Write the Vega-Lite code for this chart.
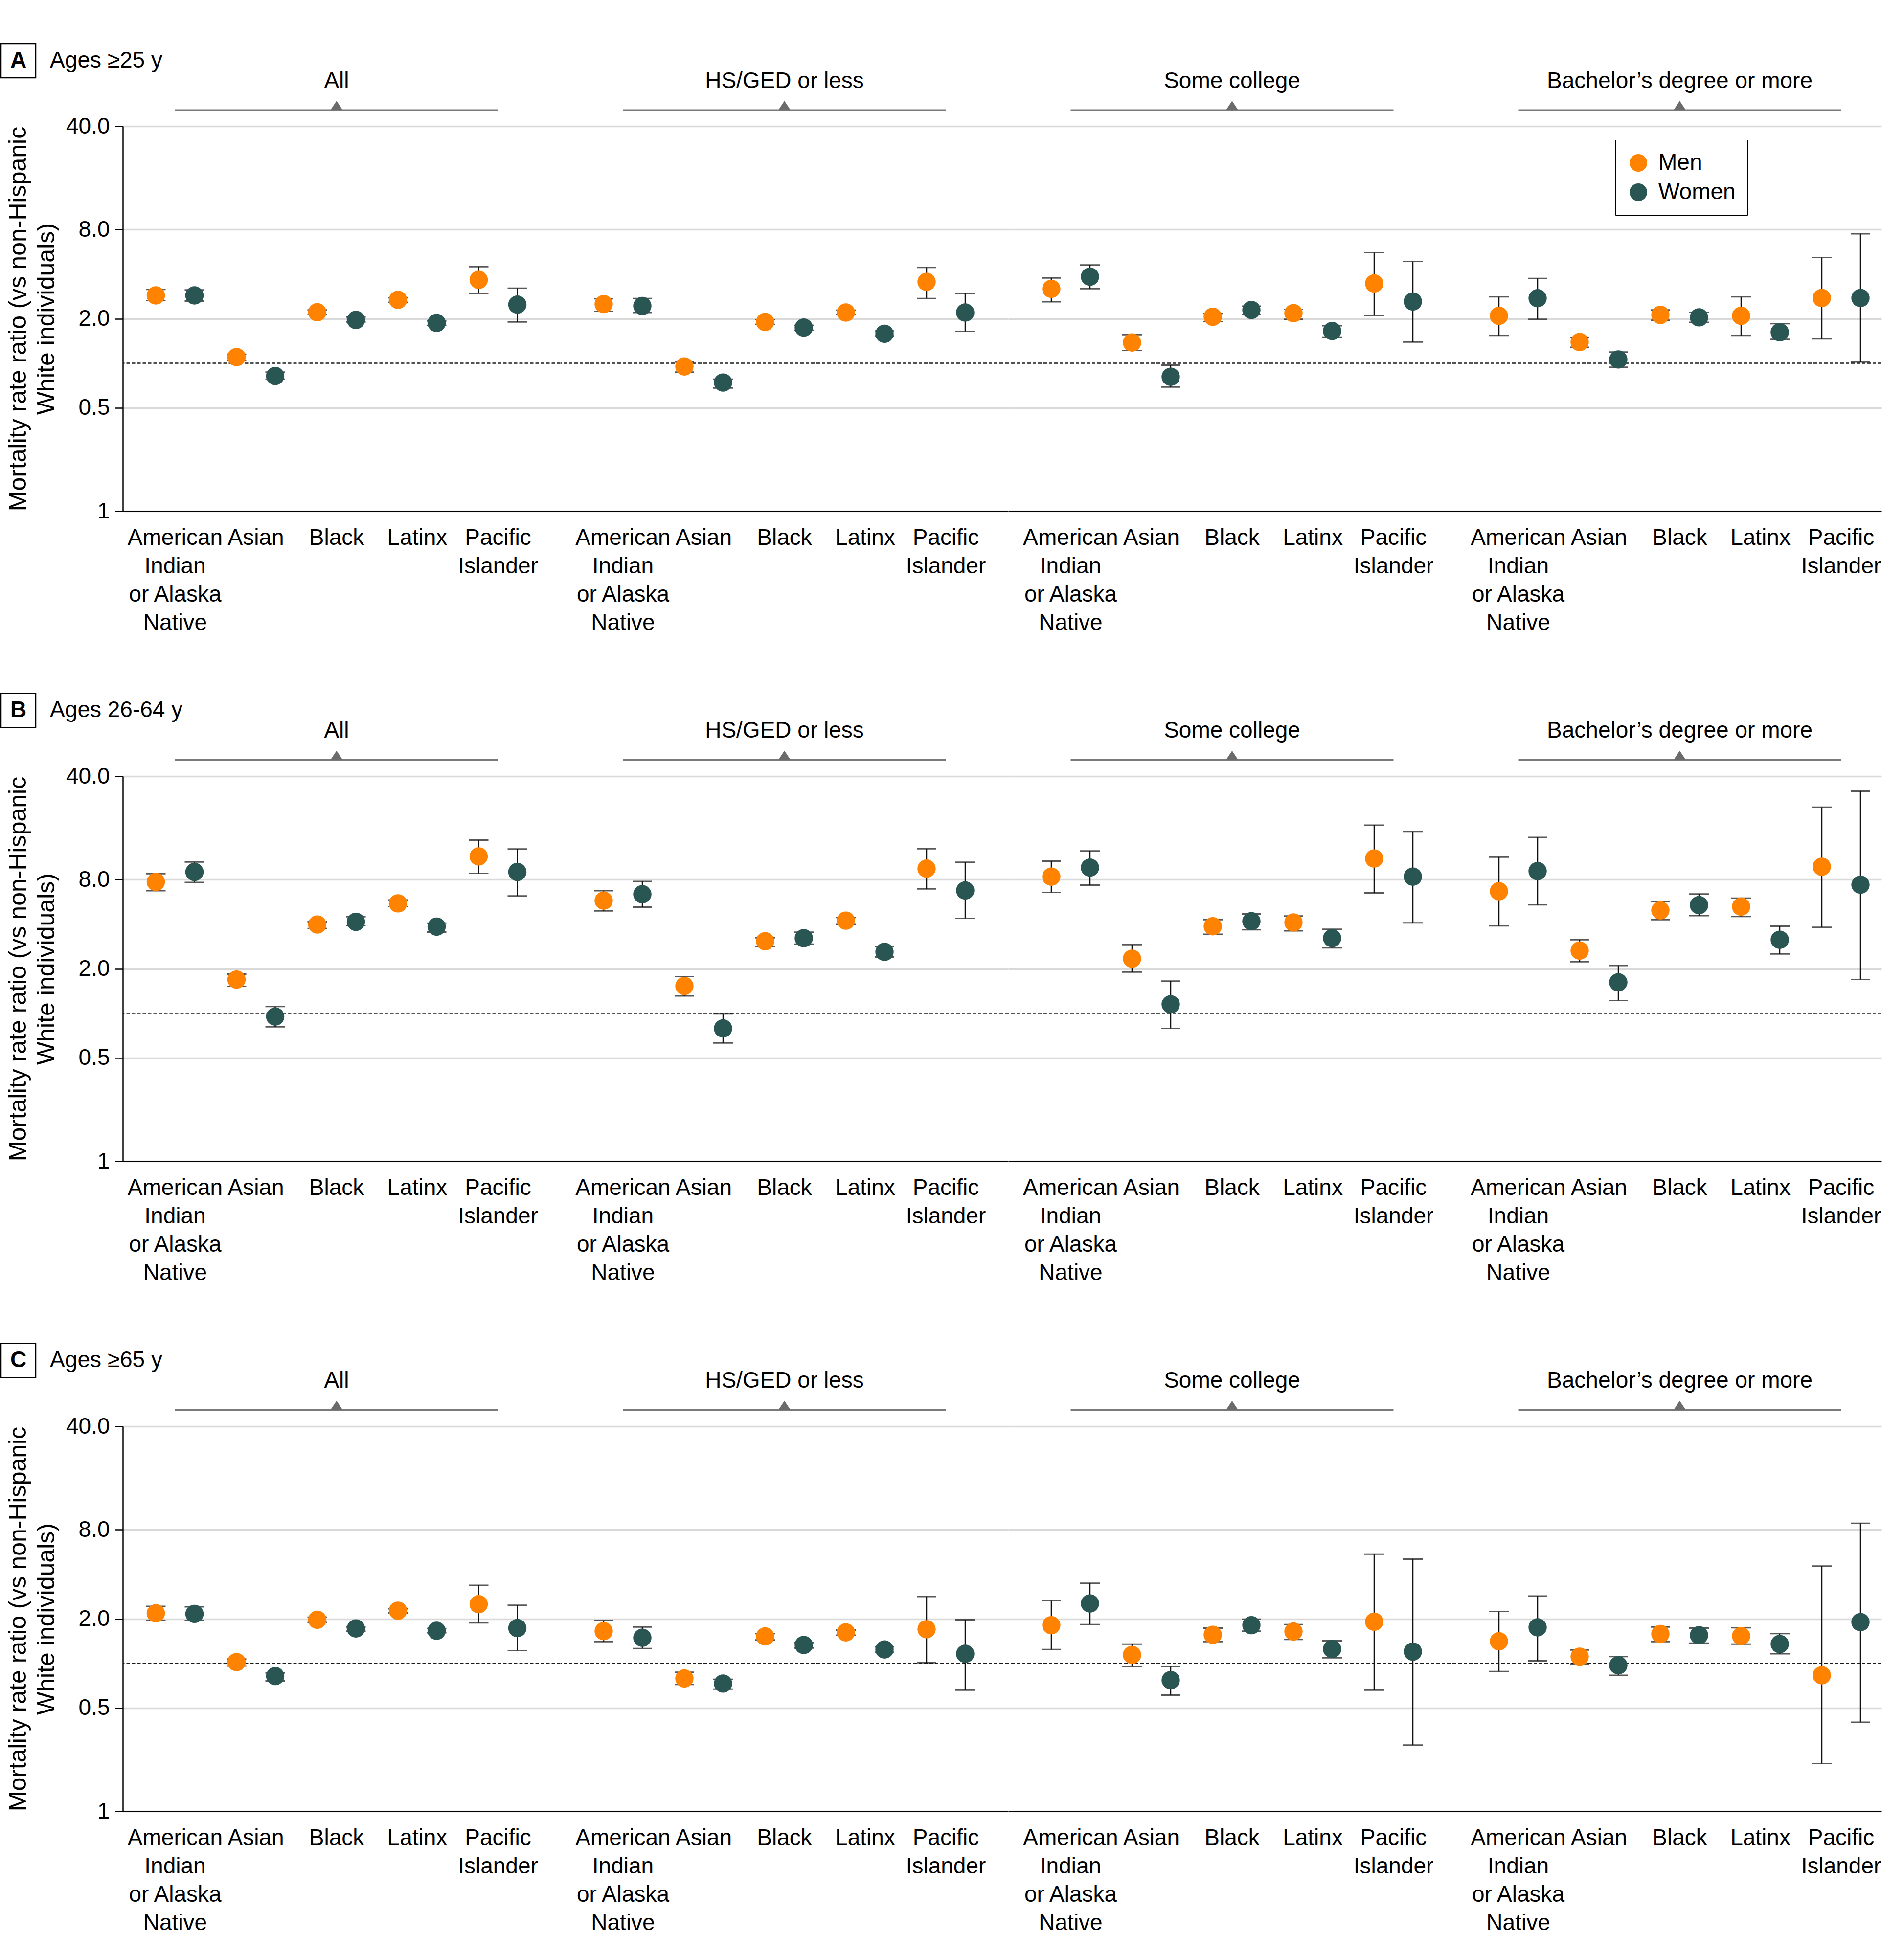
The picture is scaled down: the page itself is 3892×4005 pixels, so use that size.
{
"$schema": "https://vega.github.io/schema/vega-lite/v6.json",
"padding": 0,
"background": "white",
"bounds": "flush",
"columns": 5,
"spacing": 0,
"datasets": {"rr": [
{"panel":"A","edu":"All","race":"AIAN","sex":"Men","rr":2.87,"lo":2.65,"hi":3.15},
{"panel":"A","edu":"All","race":"AIAN","sex":"Women","rr":2.87,"lo":2.63,"hi":3.13},
{"panel":"A","edu":"All","race":"Asian","sex":"Men","rr":1.10,"lo":1.04,"hi":1.15},
{"panel":"A","edu":"All","race":"Asian","sex":"Women","rr":0.82,"lo":0.78,"hi":0.87},
{"panel":"A","edu":"All","race":"Black","sex":"Men","rr":2.21,"lo":2.14,"hi":2.29},
{"panel":"A","edu":"All","race":"Black","sex":"Women","rr":1.96,"lo":1.90,"hi":2.05},
{"panel":"A","edu":"All","race":"Latinx","sex":"Men","rr":2.68,"lo":2.58,"hi":2.77},
{"panel":"A","edu":"All","race":"Latinx","sex":"Women","rr":1.87,"lo":1.80,"hi":1.93},
{"panel":"A","edu":"All","race":"PI","sex":"Men","rr":3.66,"lo":2.97,"hi":4.49},
{"panel":"A","edu":"All","race":"PI","sex":"Women","rr":2.49,"lo":1.90,"hi":3.21},
{"panel":"A","edu":"HS","race":"AIAN","sex":"Men","rr":2.51,"lo":2.24,"hi":2.73},
{"panel":"A","edu":"HS","race":"AIAN","sex":"Women","rr":2.44,"lo":2.20,"hi":2.74},
{"panel":"A","edu":"HS","race":"Asian","sex":"Men","rr":0.95,"lo":0.87,"hi":1.02},
{"panel":"A","edu":"HS","race":"Asian","sex":"Women","rr":0.74,"lo":0.68,"hi":0.78},
{"panel":"A","edu":"HS","race":"Black","sex":"Men","rr":1.90,"lo":1.83,"hi":1.97},
{"panel":"A","edu":"HS","race":"Black","sex":"Women","rr":1.74,"lo":1.67,"hi":1.80},
{"panel":"A","edu":"HS","race":"Latinx","sex":"Men","rr":2.20,"lo":2.13,"hi":2.28},
{"panel":"A","edu":"HS","race":"Latinx","sex":"Women","rr":1.58,"lo":1.53,"hi":1.65},
{"panel":"A","edu":"HS","race":"PI","sex":"Men","rr":3.55,"lo":2.74,"hi":4.44},
{"panel":"A","edu":"HS","race":"PI","sex":"Women","rr":2.20,"lo":1.64,"hi":2.97},
{"panel":"A","edu":"SC","race":"AIAN","sex":"Men","rr":3.18,"lo":2.60,"hi":3.77},
{"panel":"A","edu":"SC","race":"AIAN","sex":"Women","rr":3.84,"lo":3.19,"hi":4.61},
{"panel":"A","edu":"SC","race":"Asian","sex":"Men","rr":1.38,"lo":1.22,"hi":1.56},
{"panel":"A","edu":"SC","race":"Asian","sex":"Women","rr":0.81,"lo":0.69,"hi":0.97},
{"panel":"A","edu":"SC","race":"Black","sex":"Men","rr":2.06,"lo":1.91,"hi":2.17},
{"panel":"A","edu":"SC","race":"Black","sex":"Women","rr":2.29,"lo":2.14,"hi":2.43},
{"panel":"A","edu":"SC","race":"Latinx","sex":"Men","rr":2.18,"lo":1.98,"hi":2.31},
{"panel":"A","edu":"SC","race":"Latinx","sex":"Women","rr":1.65,"lo":1.50,"hi":1.79},
{"panel":"A","edu":"SC","race":"PI","sex":"Men","rr":3.46,"lo":2.10,"hi":5.59},
{"panel":"A","edu":"SC","race":"PI","sex":"Women","rr":2.61,"lo":1.39,"hi":4.87},
{"panel":"A","edu":"BA","race":"AIAN","sex":"Men","rr":2.09,"lo":1.54,"hi":2.81},
{"panel":"A","edu":"BA","race":"AIAN","sex":"Women","rr":2.75,"lo":1.98,"hi":3.74},
{"panel":"A","edu":"BA","race":"Asian","sex":"Men","rr":1.39,"lo":1.28,"hi":1.49},
{"panel":"A","edu":"BA","race":"Asian","sex":"Women","rr":1.06,"lo":0.94,"hi":1.19},
{"panel":"A","edu":"BA","race":"Black","sex":"Men","rr":2.12,"lo":1.95,"hi":2.29},
{"panel":"A","edu":"BA","race":"Black","sex":"Women","rr":2.04,"lo":1.89,"hi":2.21},
{"panel":"A","edu":"BA","race":"Latinx","sex":"Men","rr":2.09,"lo":1.54,"hi":2.81},
{"panel":"A","edu":"BA","race":"Latinx","sex":"Women","rr":1.62,"lo":1.45,"hi":1.85},
{"panel":"A","edu":"BA","race":"PI","sex":"Men","rr":2.76,"lo":1.46,"hi":5.18},
{"panel":"A","edu":"BA","race":"PI","sex":"Women","rr":2.76,"lo":1.02,"hi":7.49},
{"panel":"B","edu":"All","race":"AIAN","sex":"Men","rr":7.72,"lo":6.74,"hi":8.78},
{"panel":"B","edu":"All","race":"AIAN","sex":"Women","rr":9.02,"lo":7.66,"hi":10.53},
{"panel":"B","edu":"All","race":"Asian","sex":"Men","rr":1.69,"lo":1.52,"hi":1.84},
{"panel":"B","edu":"All","race":"Asian","sex":"Women","rr":0.95,"lo":0.81,"hi":1.11},
{"panel":"B","edu":"All","race":"Black","sex":"Men","rr":3.98,"lo":3.74,"hi":4.15},
{"panel":"B","edu":"All","race":"Black","sex":"Women","rr":4.15,"lo":3.91,"hi":4.49},
{"panel":"B","edu":"All","race":"Latinx","sex":"Men","rr":5.53,"lo":5.26,"hi":5.83},
{"panel":"B","edu":"All","race":"Latinx","sex":"Women","rr":3.85,"lo":3.54,"hi":4.07},
{"panel":"B","edu":"All","race":"PI","sex":"Men","rr":11.49,"lo":8.82,"hi":14.8},
{"panel":"B","edu":"All","race":"PI","sex":"Women","rr":9.02,"lo":6.21,"hi":12.9},
{"panel":"B","edu":"HS","race":"AIAN","sex":"Men","rr":5.77,"lo":4.92,"hi":6.74},
{"panel":"B","edu":"HS","race":"AIAN","sex":"Women","rr":6.38,"lo":5.22,"hi":7.79},
{"panel":"B","edu":"HS","race":"Asian","sex":"Men","rr":1.53,"lo":1.31,"hi":1.77},
{"panel":"B","edu":"HS","race":"Asian","sex":"Women","rr":0.79,"lo":0.63,"hi":0.99},
{"panel":"B","edu":"HS","race":"Black","sex":"Men","rr":3.07,"lo":2.84,"hi":3.24},
{"panel":"B","edu":"HS","race":"Black","sex":"Women","rr":3.22,"lo":2.93,"hi":3.53},
{"panel":"B","edu":"HS","race":"Latinx","sex":"Men","rr":4.23,"lo":3.98,"hi":4.44},
{"panel":"B","edu":"HS","race":"Latinx","sex":"Women","rr":2.60,"lo":2.40,"hi":2.82},
{"panel":"B","edu":"HS","race":"PI","sex":"Men","rr":9.50,"lo":6.93,"hi":12.95},
{"panel":"B","edu":"HS","race":"PI","sex":"Women","rr":6.76,"lo":4.38,"hi":10.5},
{"panel":"B","edu":"SC","race":"AIAN","sex":"Men","rr":8.38,"lo":6.56,"hi":10.68},
{"panel":"B","edu":"SC","race":"AIAN","sex":"Women","rr":9.65,"lo":7.35,"hi":12.5},
{"panel":"B","edu":"SC","race":"Asian","sex":"Men","rr":2.34,"lo":1.90,"hi":2.91},
{"panel":"B","edu":"SC","race":"Asian","sex":"Women","rr":1.15,"lo":0.79,"hi":1.65},
{"panel":"B","edu":"SC","race":"Black","sex":"Men","rr":3.87,"lo":3.42,"hi":4.29},
{"panel":"B","edu":"SC","race":"Black","sex":"Women","rr":4.19,"lo":3.67,"hi":4.69},
{"panel":"B","edu":"SC","race":"Latinx","sex":"Men","rr":4.11,"lo":3.61,"hi":4.54},
{"panel":"B","edu":"SC","race":"Latinx","sex":"Women","rr":3.22,"lo":2.77,"hi":3.70},
{"panel":"B","edu":"SC","race":"PI","sex":"Men","rr":11.12,"lo":6.51,"hi":18.7},
{"panel":"B","edu":"SC","race":"PI","sex":"Women","rr":8.38,"lo":4.08,"hi":16.95},
{"panel":"B","edu":"BA","race":"AIAN","sex":"Men","rr":6.68,"lo":3.90,"hi":11.36},
{"panel":"B","edu":"BA","race":"AIAN","sex":"Women","rr":9.14,"lo":5.41,"hi":15.45},
{"panel":"B","edu":"BA","race":"Asian","sex":"Men","rr":2.65,"lo":2.23,"hi":3.14},
{"panel":"B","edu":"BA","race":"Asian","sex":"Women","rr":1.62,"lo":1.22,"hi":2.10},
{"panel":"B","edu":"BA","race":"Black","sex":"Men","rr":4.96,"lo":4.29,"hi":5.68},
{"panel":"B","edu":"BA","race":"Black","sex":"Women","rr":5.38,"lo":4.57,"hi":6.40},
{"panel":"B","edu":"BA","race":"Latinx","sex":"Men","rr":5.26,"lo":4.51,"hi":6.00},
{"panel":"B","edu":"BA","race":"Latinx","sex":"Women","rr":3.14,"lo":2.52,"hi":3.88},
{"panel":"B","edu":"BA","race":"PI","sex":"Men","rr":9.79,"lo":3.81,"hi":24.7},
{"panel":"B","edu":"BA","race":"PI","sex":"Women","rr":7.39,"lo":1.69,"hi":31.7},
{"panel":"C","edu":"All","race":"AIAN","sex":"Men","rr":2.18,"lo":1.94,"hi":2.43},
{"panel":"C","edu":"All","race":"AIAN","sex":"Women","rr":2.16,"lo":1.94,"hi":2.41},
{"panel":"C","edu":"All","race":"Asian","sex":"Men","rr":1.02,"lo":0.96,"hi":1.07},
{"panel":"C","edu":"All","race":"Asian","sex":"Women","rr":0.82,"lo":0.76,"hi":0.86},
{"panel":"C","edu":"All","race":"Black","sex":"Men","rr":1.97,"lo":1.89,"hi":2.05},
{"panel":"C","edu":"All","race":"Black","sex":"Women","rr":1.72,"lo":1.65,"hi":1.76},
{"panel":"C","edu":"All","race":"Latinx","sex":"Men","rr":2.27,"lo":2.19,"hi":2.34},
{"panel":"C","edu":"All","race":"Latinx","sex":"Women","rr":1.66,"lo":1.61,"hi":1.72},
{"panel":"C","edu":"All","race":"PI","sex":"Men","rr":2.51,"lo":1.88,"hi":3.37},
{"panel":"C","edu":"All","race":"PI","sex":"Women","rr":1.73,"lo":1.22,"hi":2.47},
{"panel":"C","edu":"HS","race":"AIAN","sex":"Men","rr":1.65,"lo":1.40,"hi":1.95},
{"panel":"C","edu":"HS","race":"AIAN","sex":"Women","rr":1.49,"lo":1.26,"hi":1.76},
{"panel":"C","edu":"HS","race":"Asian","sex":"Men","rr":0.79,"lo":0.72,"hi":0.87},
{"panel":"C","edu":"HS","race":"Asian","sex":"Women","rr":0.73,"lo":0.67,"hi":0.78},
{"panel":"C","edu":"HS","race":"Black","sex":"Men","rr":1.52,"lo":1.44,"hi":1.59},
{"panel":"C","edu":"HS","race":"Black","sex":"Women","rr":1.33,"lo":1.27,"hi":1.38},
{"panel":"C","edu":"HS","race":"Latinx","sex":"Men","rr":1.62,"lo":1.55,"hi":1.68},
{"panel":"C","edu":"HS","race":"Latinx","sex":"Women","rr":1.24,"lo":1.19,"hi":1.29},
{"panel":"C","edu":"HS","race":"PI","sex":"Men","rr":1.70,"lo":1.01,"hi":2.83},
{"panel":"C","edu":"HS","race":"PI","sex":"Women","rr":1.16,"lo":0.66,"hi":1.97},
{"panel":"C","edu":"SC","race":"AIAN","sex":"Men","rr":1.81,"lo":1.24,"hi":2.65},
{"panel":"C","edu":"SC","race":"AIAN","sex":"Women","rr":2.54,"lo":1.83,"hi":3.48},
{"panel":"C","edu":"SC","race":"Asian","sex":"Men","rr":1.14,"lo":0.95,"hi":1.35},
{"panel":"C","edu":"SC","race":"Asian","sex":"Women","rr":0.77,"lo":0.61,"hi":0.95},
{"panel":"C","edu":"SC","race":"Black","sex":"Men","rr":1.56,"lo":1.40,"hi":1.73},
{"panel":"C","edu":"SC","race":"Black","sex":"Women","rr":1.81,"lo":1.65,"hi":1.99},
{"panel":"C","edu":"SC","race":"Latinx","sex":"Men","rr":1.64,"lo":1.45,"hi":1.83},
{"panel":"C","edu":"SC","race":"Latinx","sex":"Women","rr":1.25,"lo":1.09,"hi":1.42},
{"panel":"C","edu":"SC","race":"PI","sex":"Men","rr":1.91,"lo":0.66,"hi":5.47},
{"panel":"C","edu":"SC","race":"PI","sex":"Women","rr":1.20,"lo":0.28,"hi":5.06},
{"panel":"C","edu":"BA","race":"AIAN","sex":"Men","rr":1.41,"lo":0.88,"hi":2.24},
{"panel":"C","edu":"BA","race":"AIAN","sex":"Women","rr":1.75,"lo":1.04,"hi":2.85},
{"panel":"C","edu":"BA","race":"Asian","sex":"Men","rr":1.11,"lo":0.99,"hi":1.23},
{"panel":"C","edu":"BA","race":"Asian","sex":"Women","rr":0.97,"lo":0.83,"hi":1.11},
{"panel":"C","edu":"BA","race":"Black","sex":"Men","rr":1.58,"lo":1.40,"hi":1.76},
{"panel":"C","edu":"BA","race":"Black","sex":"Women","rr":1.55,"lo":1.37,"hi":1.73},
{"panel":"C","edu":"BA","race":"Latinx","sex":"Men","rr":1.53,"lo":1.35,"hi":1.74},
{"panel":"C","edu":"BA","race":"Latinx","sex":"Women","rr":1.35,"lo":1.16,"hi":1.59},
{"panel":"C","edu":"BA","race":"PI","sex":"Men","rr":0.83,"lo":0.21,"hi":4.54},
{"panel":"C","edu":"BA","race":"PI","sex":"Women","rr":1.90,"lo":0.40,"hi":8.85}
]},
"config": {
  "font": "Liberation Sans",
  "view": {"stroke": null},
  "axis": {"labelFont": "Liberation Sans", "titleFont": "Liberation Sans", "labelFontSize": 46, "labelColor": "#000", "titleFontSize": 50, "titleFontWeight": "normal", "titleColor": "#000", "labelLimit": 1000},
  "axisY": {"gridColor": "#d9d9d9", "gridWidth": 3.5, "domainColor": "#000", "domainWidth": 2.5, "tickColor": "#000", "tickWidth": 2.5, "tickSize": 16, "labelPadding": 11, "titlePadding": 14, "titleLineHeight": 58},
  "axisX": {"domainColor": "#000", "domainWidth": 2.5, "ticks": false, "tickSize": 0, "grid": false, "labelAngle": 0, "labelPadding": 32, "labelLineHeight": 58, "labelBaseline": "top", "labelOverlap": false, "labelBound": false, "labelFlush": false},
  "legend": {"labelFontSize": 46, "labelColor": "#000", "labelFont": "Liberation Sans", "symbolSize": 1296, "symbolType": "circle", "symbolStrokeWidth": 0, "padding": 24, "rowPadding": 14, "labelOffset": 18, "strokeColor": "#000", "fillColor": "#fff"}
},
"concat": [
  {"width": 249, "height": 258,
   "data": {"values": [{"part": "letter", "text": "A"}, {"part": "label", "text": "Ages ≥25 y"}]},
   "encoding": {"y": {"datum": "box", "type": "nominal", "scale": {"type": "band", "domain": ["t0", "box", "t2"], "paddingInner": 0, "paddingOuter": 0.343, "align": 0.396}, "axis": null}},
   "layer": [
    {"transform": [{"filter": "datum.part == 'letter'"}], "mark": {"type": "rect", "fill": "#fff", "stroke": "#000", "strokeWidth": 2.5}, "encoding": {"x": {"field": "part", "type": "nominal", "scale": {"type": "band", "domain": ["letter", "label"], "paddingInner": 0, "paddingOuter": 0.7535, "align": 0}, "axis": null}}},
    {"transform": [{"filter": "datum.part == 'letter'"}], "mark": {"type": "text", "fontSize": 46, "fontWeight": "bold", "align": "center", "baseline": "middle", "color": "#000"}, "encoding": {"x": {"field": "part", "type": "nominal", "bandPosition": 0.5, "scale": {"type": "band", "domain": ["letter", "label"], "paddingInner": 0, "paddingOuter": 0.7535, "align": 0}, "axis": null}, "text": {"field": "text"}}},
    {"transform": [{"filter": "datum.part == 'label'"}], "mark": {"type": "text", "fontSize": 46, "align": "left", "baseline": "middle", "color": "#000"}, "encoding": {"x": {"field": "part", "type": "nominal", "bandPosition": 0.41, "scale": {"type": "band", "domain": ["letter", "label"], "paddingInner": 0, "paddingOuter": 0.7535, "align": 0}, "axis": null}, "text": {"field": "text"}}}
   ]},
  {"width": 894.5, "height": 258, "data": {"values": [{"label": "All"}]},
   "layer": [
    {"mark": {"type": "rule", "color": "#7a7a7a", "strokeWidth": 3}, "encoding": {"x": {"datum": "AIAN", "type": "nominal", "scale": {"type": "band", "domain": ["AIAN","Asian","Black","Latinx","PI"], "paddingInner": 0, "paddingOuter": 0.2106, "align": 0.3525}, "axis": null}, "x2": {"datum": "PI"}, "y": {"datum": "rule", "type": "nominal", "scale": {"type": "point", "domain": ["d0", "d1", "label", "rule"], "padding": 0.686, "align": 0.593}, "axis": null}}},
    {"mark": {"type": "point", "shape": "M-1,0L0,-1.5L1,0Z", "size": 625, "filled": true, "color": "#6b6b6b", "opacity": 1}, "encoding": {"x": {"datum": "Black", "type": "nominal", "scale": {"type": "band", "domain": ["AIAN","Asian","Black","Latinx","PI"], "paddingInner": 0, "paddingOuter": 0.2106, "align": 0.3525}, "axis": null}, "y": {"datum": "rule", "type": "nominal", "scale": {"type": "point", "domain": ["d0", "d1", "label", "rule"], "padding": 0.686, "align": 0.593}, "axis": null}}},
    {"mark": {"type": "text", "fontSize": 46, "color": "#000", "baseline": "middle"}, "encoding": {"x": {"datum": "Black", "type": "nominal", "scale": {"type": "band", "domain": ["AIAN","Asian","Black","Latinx","PI"], "paddingInner": 0, "paddingOuter": 0.2106, "align": 0.3525}, "axis": null}, "y": {"datum": "label", "type": "nominal", "scale": {"type": "point", "domain": ["d0", "d1", "label", "rule"], "padding": 0.686, "align": 0.593}, "axis": null}, "text": {"field": "label"}}}
   ]},
  {"width": 915, "height": 258, "data": {"values": [{"label": "HS/GED or less"}]},
   "layer": [
    {"mark": {"type": "rule", "color": "#7a7a7a", "strokeWidth": 3}, "encoding": {"x": {"datum": "AIAN", "type": "nominal", "scale": {"type": "band", "domain": ["AIAN","Asian","Black","Latinx","PI"], "paddingInner": 0, "paddingOuter": 0.2727, "align": 0.5}, "axis": null}, "x2": {"datum": "PI"}, "y": {"datum": "rule", "type": "nominal", "scale": {"type": "point", "domain": ["d0", "d1", "label", "rule"], "padding": 0.686, "align": 0.593}, "axis": null}}},
    {"mark": {"type": "point", "shape": "M-1,0L0,-1.5L1,0Z", "size": 625, "filled": true, "color": "#6b6b6b", "opacity": 1}, "encoding": {"x": {"datum": "Black", "type": "nominal", "scale": {"type": "band", "domain": ["AIAN","Asian","Black","Latinx","PI"], "paddingInner": 0, "paddingOuter": 0.2727, "align": 0.5}, "axis": null}, "y": {"datum": "rule", "type": "nominal", "scale": {"type": "point", "domain": ["d0", "d1", "label", "rule"], "padding": 0.686, "align": 0.593}, "axis": null}}},
    {"mark": {"type": "text", "fontSize": 46, "color": "#000", "baseline": "middle"}, "encoding": {"x": {"datum": "Black", "type": "nominal", "scale": {"type": "band", "domain": ["AIAN","Asian","Black","Latinx","PI"], "paddingInner": 0, "paddingOuter": 0.2727, "align": 0.5}, "axis": null}, "y": {"datum": "label", "type": "nominal", "scale": {"type": "point", "domain": ["d0", "d1", "label", "rule"], "padding": 0.686, "align": 0.593}, "axis": null}, "text": {"field": "label"}}}
   ]},
  {"width": 915, "height": 258, "data": {"values": [{"label": "Some college"}]},
   "layer": [
    {"mark": {"type": "rule", "color": "#7a7a7a", "strokeWidth": 3}, "encoding": {"x": {"datum": "AIAN", "type": "nominal", "scale": {"type": "band", "domain": ["AIAN","Asian","Black","Latinx","PI"], "paddingInner": 0, "paddingOuter": 0.2727, "align": 0.5}, "axis": null}, "x2": {"datum": "PI"}, "y": {"datum": "rule", "type": "nominal", "scale": {"type": "point", "domain": ["d0", "d1", "label", "rule"], "padding": 0.686, "align": 0.593}, "axis": null}}},
    {"mark": {"type": "point", "shape": "M-1,0L0,-1.5L1,0Z", "size": 625, "filled": true, "color": "#6b6b6b", "opacity": 1}, "encoding": {"x": {"datum": "Black", "type": "nominal", "scale": {"type": "band", "domain": ["AIAN","Asian","Black","Latinx","PI"], "paddingInner": 0, "paddingOuter": 0.2727, "align": 0.5}, "axis": null}, "y": {"datum": "rule", "type": "nominal", "scale": {"type": "point", "domain": ["d0", "d1", "label", "rule"], "padding": 0.686, "align": 0.593}, "axis": null}}},
    {"mark": {"type": "text", "fontSize": 46, "color": "#000", "baseline": "middle"}, "encoding": {"x": {"datum": "Black", "type": "nominal", "scale": {"type": "band", "domain": ["AIAN","Asian","Black","Latinx","PI"], "paddingInner": 0, "paddingOuter": 0.2727, "align": 0.5}, "axis": null}, "y": {"datum": "label", "type": "nominal", "scale": {"type": "point", "domain": ["d0", "d1", "label", "rule"], "padding": 0.686, "align": 0.593}, "axis": null}, "text": {"field": "label"}}}
   ]},
  {"width": 870, "height": 258, "data": {"values": [{"label": "Bachelor’s degree or more"}]},
   "layer": [
    {"mark": {"type": "rule", "color": "#7a7a7a", "strokeWidth": 3}, "encoding": {"x": {"datum": "AIAN", "type": "nominal", "scale": {"type": "band", "domain": ["AIAN","Asian","Black","Latinx","PI"], "paddingInner": 0, "paddingOuter": 0.1364, "align": 1}, "axis": null}, "x2": {"datum": "PI"}, "y": {"datum": "rule", "type": "nominal", "scale": {"type": "point", "domain": ["d0", "d1", "label", "rule"], "padding": 0.686, "align": 0.593}, "axis": null}}},
    {"mark": {"type": "point", "shape": "M-1,0L0,-1.5L1,0Z", "size": 625, "filled": true, "color": "#6b6b6b", "opacity": 1}, "encoding": {"x": {"datum": "Black", "type": "nominal", "scale": {"type": "band", "domain": ["AIAN","Asian","Black","Latinx","PI"], "paddingInner": 0, "paddingOuter": 0.1364, "align": 1}, "axis": null}, "y": {"datum": "rule", "type": "nominal", "scale": {"type": "point", "domain": ["d0", "d1", "label", "rule"], "padding": 0.686, "align": 0.593}, "axis": null}}},
    {"mark": {"type": "text", "fontSize": 46, "color": "#000", "baseline": "middle"}, "encoding": {"x": {"datum": "Black", "type": "nominal", "scale": {"type": "band", "domain": ["AIAN","Asian","Black","Latinx","PI"], "paddingInner": 0, "paddingOuter": 0.1364, "align": 1}, "axis": null}, "y": {"datum": "label", "type": "nominal", "scale": {"type": "point", "domain": ["d0", "d1", "label", "rule"], "padding": 0.686, "align": 0.593}, "axis": null}, "text": {"field": "label"}}}
   ]},
  {"width": 249, "height": 787, "data": {"values": [{"a": 1}]}, "mark": {"type": "text", "text": ""}, "encoding": {}},
  {"width": 894.5, "height": 787, "layer": [
   {"data": {"values": [{"ref": 1}]}, "mark": {"type": "rule", "color": "#1a1a1a", "strokeWidth": 2.5, "strokeDash": [7, 4]}, "encoding": {"y": {"field": "ref", "type": "quantitative", "scale": {"type": "log", "domain": [0.1, 40], "nice": false}, "axis": {"values": [0.1, 0.5, 2, 8, 40], "grid": true, "labelExpr": "datum.value < 0.2 ? '1' : format(datum.value, '.1f')", "title": ["Mortality rate ratio (vs non-Hispanic", "White individuals)"]}}}},
   {"data": {"name": "rr"}, "transform": [{"filter": "datum.panel == 'A' && datum.edu == 'All'"}],
    "encoding": {"x": {"field": "race", "type": "nominal", "scale": {"type": "band", "domain": ["AIAN","Asian","Black","Latinx","PI"], "paddingInner": 0, "paddingOuter": 0.2106, "align": 0.3525}, "axis": {"title": null, "labelExpr": "datum.value == 'AIAN' ? ['American', 'Indian', 'or Alaska', 'Native'] : datum.value == 'PI' ? ['Pacific', 'Islander'] : datum.value"}}, "xOffset": {"field": "sex", "type": "nominal", "scale": {"type": "band", "domain": ["Men", "Women"], "paddingInner": 0, "paddingOuter": 0.044}}},
    "layer": [
     {"mark": {"type": "rule", "color": "#111", "strokeWidth": 2.5}, "encoding": {"y": {"field": "lo", "type": "quantitative"}, "y2": {"field": "hi"}}},
     {"mark": {"type": "tick", "color": "#111", "size": 40, "thickness": 3}, "encoding": {"y": {"field": "lo", "type": "quantitative"}}},
     {"mark": {"type": "tick", "color": "#111", "size": 40, "thickness": 3}, "encoding": {"y": {"field": "hi", "type": "quantitative"}}},
     {"mark": {"type": "circle", "size": 1400, "opacity": 1}, "encoding": {"y": {"field": "rr", "type": "quantitative"}, "color": {"field": "sex", "type": "nominal", "scale": {"domain": ["Men", "Women"], "range": ["#ff8200", "#295553"]}, "legend": {"title": null, "orient": "none", "legendX": 3300, "legendY": 286}}}}
    ]}
  ]},
  {"width": 915, "height": 787, "layer": [
   {"data": {"values": [{"ref": 1}]}, "mark": {"type": "rule", "color": "#1a1a1a", "strokeWidth": 2.5, "strokeDash": [7, 4]}, "encoding": {"y": {"field": "ref", "type": "quantitative", "scale": {"type": "log", "domain": [0.1, 40], "nice": false}, "axis": {"values": [0.1, 0.5, 2, 8, 40], "grid": true, "labels": false, "ticks": false, "domain": false, "title": null}}}},
   {"data": {"name": "rr"}, "transform": [{"filter": "datum.panel == 'A' && datum.edu == 'HS'"}],
    "encoding": {"x": {"field": "race", "type": "nominal", "scale": {"type": "band", "domain": ["AIAN","Asian","Black","Latinx","PI"], "paddingInner": 0, "paddingOuter": 0.2727, "align": 0.5}, "axis": {"title": null, "labelExpr": "datum.value == 'AIAN' ? ['American', 'Indian', 'or Alaska', 'Native'] : datum.value == 'PI' ? ['Pacific', 'Islander'] : datum.value"}}, "xOffset": {"field": "sex", "type": "nominal", "scale": {"type": "band", "domain": ["Men", "Women"], "paddingInner": 0, "paddingOuter": 0.044}}},
    "layer": [
     {"mark": {"type": "rule", "color": "#111", "strokeWidth": 2.5}, "encoding": {"y": {"field": "lo", "type": "quantitative"}, "y2": {"field": "hi"}}},
     {"mark": {"type": "tick", "color": "#111", "size": 40, "thickness": 3}, "encoding": {"y": {"field": "lo", "type": "quantitative"}}},
     {"mark": {"type": "tick", "color": "#111", "size": 40, "thickness": 3}, "encoding": {"y": {"field": "hi", "type": "quantitative"}}},
     {"mark": {"type": "circle", "size": 1400, "opacity": 1}, "encoding": {"y": {"field": "rr", "type": "quantitative"}, "color": {"field": "sex", "type": "nominal", "scale": {"domain": ["Men", "Women"], "range": ["#ff8200", "#295553"]}, "legend": {"title": null, "orient": "none", "legendX": 3300, "legendY": 286}}}}
    ]}
  ]},
  {"width": 915, "height": 787, "layer": [
   {"data": {"values": [{"ref": 1}]}, "mark": {"type": "rule", "color": "#1a1a1a", "strokeWidth": 2.5, "strokeDash": [7, 4]}, "encoding": {"y": {"field": "ref", "type": "quantitative", "scale": {"type": "log", "domain": [0.1, 40], "nice": false}, "axis": {"values": [0.1, 0.5, 2, 8, 40], "grid": true, "labels": false, "ticks": false, "domain": false, "title": null}}}},
   {"data": {"name": "rr"}, "transform": [{"filter": "datum.panel == 'A' && datum.edu == 'SC'"}],
    "encoding": {"x": {"field": "race", "type": "nominal", "scale": {"type": "band", "domain": ["AIAN","Asian","Black","Latinx","PI"], "paddingInner": 0, "paddingOuter": 0.2727, "align": 0.5}, "axis": {"title": null, "labelExpr": "datum.value == 'AIAN' ? ['American', 'Indian', 'or Alaska', 'Native'] : datum.value == 'PI' ? ['Pacific', 'Islander'] : datum.value"}}, "xOffset": {"field": "sex", "type": "nominal", "scale": {"type": "band", "domain": ["Men", "Women"], "paddingInner": 0, "paddingOuter": 0.044}}},
    "layer": [
     {"mark": {"type": "rule", "color": "#111", "strokeWidth": 2.5}, "encoding": {"y": {"field": "lo", "type": "quantitative"}, "y2": {"field": "hi"}}},
     {"mark": {"type": "tick", "color": "#111", "size": 40, "thickness": 3}, "encoding": {"y": {"field": "lo", "type": "quantitative"}}},
     {"mark": {"type": "tick", "color": "#111", "size": 40, "thickness": 3}, "encoding": {"y": {"field": "hi", "type": "quantitative"}}},
     {"mark": {"type": "circle", "size": 1400, "opacity": 1}, "encoding": {"y": {"field": "rr", "type": "quantitative"}, "color": {"field": "sex", "type": "nominal", "scale": {"domain": ["Men", "Women"], "range": ["#ff8200", "#295553"]}, "legend": {"title": null, "orient": "none", "legendX": 3300, "legendY": 286}}}}
    ]}
  ]},
  {"width": 870, "height": 787, "layer": [
   {"data": {"values": [{"ref": 1}]}, "mark": {"type": "rule", "color": "#1a1a1a", "strokeWidth": 2.5, "strokeDash": [7, 4]}, "encoding": {"y": {"field": "ref", "type": "quantitative", "scale": {"type": "log", "domain": [0.1, 40], "nice": false}, "axis": {"values": [0.1, 0.5, 2, 8, 40], "grid": true, "labels": false, "ticks": false, "domain": false, "title": null}}}},
   {"data": {"name": "rr"}, "transform": [{"filter": "datum.panel == 'A' && datum.edu == 'BA'"}],
    "encoding": {"x": {"field": "race", "type": "nominal", "scale": {"type": "band", "domain": ["AIAN","Asian","Black","Latinx","PI"], "paddingInner": 0, "paddingOuter": 0.1364, "align": 1}, "axis": {"title": null, "labelExpr": "datum.value == 'AIAN' ? ['American', 'Indian', 'or Alaska', 'Native'] : datum.value == 'PI' ? ['Pacific', 'Islander'] : datum.value"}}, "xOffset": {"field": "sex", "type": "nominal", "scale": {"type": "band", "domain": ["Men", "Women"], "paddingInner": 0, "paddingOuter": 0.044}}},
    "layer": [
     {"mark": {"type": "rule", "color": "#111", "strokeWidth": 2.5}, "encoding": {"y": {"field": "lo", "type": "quantitative"}, "y2": {"field": "hi"}}},
     {"mark": {"type": "tick", "color": "#111", "size": 40, "thickness": 3}, "encoding": {"y": {"field": "lo", "type": "quantitative"}}},
     {"mark": {"type": "tick", "color": "#111", "size": 40, "thickness": 3}, "encoding": {"y": {"field": "hi", "type": "quantitative"}}},
     {"mark": {"type": "circle", "size": 1400, "opacity": 1}, "encoding": {"y": {"field": "rr", "type": "quantitative"}, "color": {"field": "sex", "type": "nominal", "scale": {"domain": ["Men", "Women"], "range": ["#ff8200", "#295553"]}, "legend": {"title": null, "orient": "none", "legendX": 3300, "legendY": 286}}}}
    ]}
  ]},
  {"width": 249, "height": 541.5,
   "data": {"values": [{"part": "letter", "text": "B"}, {"part": "label", "text": "Ages 26-64 y"}]},
   "encoding": {"y": {"datum": "box", "type": "nominal", "scale": {"type": "band", "domain": ["t0", "t1", "t2", "t3", "t4", "box", "t6"], "paddingInner": 0, "paddingOuter": 0.368, "align": 0.437}, "axis": null}},
   "layer": [
    {"transform": [{"filter": "datum.part == 'letter'"}], "mark": {"type": "rect", "fill": "#fff", "stroke": "#000", "strokeWidth": 2.5}, "encoding": {"x": {"field": "part", "type": "nominal", "scale": {"type": "band", "domain": ["letter", "label"], "paddingInner": 0, "paddingOuter": 0.7535, "align": 0}, "axis": null}}},
    {"transform": [{"filter": "datum.part == 'letter'"}], "mark": {"type": "text", "fontSize": 46, "fontWeight": "bold", "align": "center", "baseline": "middle", "color": "#000"}, "encoding": {"x": {"field": "part", "type": "nominal", "bandPosition": 0.5, "scale": {"type": "band", "domain": ["letter", "label"], "paddingInner": 0, "paddingOuter": 0.7535, "align": 0}, "axis": null}, "text": {"field": "text"}}},
    {"transform": [{"filter": "datum.part == 'label'"}], "mark": {"type": "text", "fontSize": 46, "align": "left", "baseline": "middle", "color": "#000"}, "encoding": {"x": {"field": "part", "type": "nominal", "bandPosition": 0.41, "scale": {"type": "band", "domain": ["letter", "label"], "paddingInner": 0, "paddingOuter": 0.7535, "align": 0}, "axis": null}, "text": {"field": "text"}}}
   ]},
  {"width": 894.5, "height": 541.5, "data": {"values": [{"label": "All"}]},
   "layer": [
    {"mark": {"type": "rule", "color": "#7a7a7a", "strokeWidth": 3}, "encoding": {"x": {"datum": "AIAN", "type": "nominal", "scale": {"type": "band", "domain": ["AIAN","Asian","Black","Latinx","PI"], "paddingInner": 0, "paddingOuter": 0.2106, "align": 0.3525}, "axis": null}, "x2": {"datum": "PI"}, "y": {"datum": "rule", "type": "nominal", "scale": {"type": "point", "domain": ["d0","d1","d2","d3","d4","d5","d6","label","rule"], "padding": 0.589, "align": 0.525}, "axis": null}}},
    {"mark": {"type": "point", "shape": "M-1,0L0,-1.5L1,0Z", "size": 625, "filled": true, "color": "#6b6b6b", "opacity": 1}, "encoding": {"x": {"datum": "Black", "type": "nominal", "scale": {"type": "band", "domain": ["AIAN","Asian","Black","Latinx","PI"], "paddingInner": 0, "paddingOuter": 0.2106, "align": 0.3525}, "axis": null}, "y": {"datum": "rule", "type": "nominal", "scale": {"type": "point", "domain": ["d0","d1","d2","d3","d4","d5","d6","label","rule"], "padding": 0.589, "align": 0.525}, "axis": null}}},
    {"mark": {"type": "text", "fontSize": 46, "color": "#000", "baseline": "middle"}, "encoding": {"x": {"datum": "Black", "type": "nominal", "scale": {"type": "band", "domain": ["AIAN","Asian","Black","Latinx","PI"], "paddingInner": 0, "paddingOuter": 0.2106, "align": 0.3525}, "axis": null}, "y": {"datum": "label", "type": "nominal", "scale": {"type": "point", "domain": ["d0","d1","d2","d3","d4","d5","d6","label","rule"], "padding": 0.589, "align": 0.525}, "axis": null}, "text": {"field": "label"}}}
   ]},
  {"width": 915, "height": 541.5, "data": {"values": [{"label": "HS/GED or less"}]},
   "layer": [
    {"mark": {"type": "rule", "color": "#7a7a7a", "strokeWidth": 3}, "encoding": {"x": {"datum": "AIAN", "type": "nominal", "scale": {"type": "band", "domain": ["AIAN","Asian","Black","Latinx","PI"], "paddingInner": 0, "paddingOuter": 0.2727, "align": 0.5}, "axis": null}, "x2": {"datum": "PI"}, "y": {"datum": "rule", "type": "nominal", "scale": {"type": "point", "domain": ["d0","d1","d2","d3","d4","d5","d6","label","rule"], "padding": 0.589, "align": 0.525}, "axis": null}}},
    {"mark": {"type": "point", "shape": "M-1,0L0,-1.5L1,0Z", "size": 625, "filled": true, "color": "#6b6b6b", "opacity": 1}, "encoding": {"x": {"datum": "Black", "type": "nominal", "scale": {"type": "band", "domain": ["AIAN","Asian","Black","Latinx","PI"], "paddingInner": 0, "paddingOuter": 0.2727, "align": 0.5}, "axis": null}, "y": {"datum": "rule", "type": "nominal", "scale": {"type": "point", "domain": ["d0","d1","d2","d3","d4","d5","d6","label","rule"], "padding": 0.589, "align": 0.525}, "axis": null}}},
    {"mark": {"type": "text", "fontSize": 46, "color": "#000", "baseline": "middle"}, "encoding": {"x": {"datum": "Black", "type": "nominal", "scale": {"type": "band", "domain": ["AIAN","Asian","Black","Latinx","PI"], "paddingInner": 0, "paddingOuter": 0.2727, "align": 0.5}, "axis": null}, "y": {"datum": "label", "type": "nominal", "scale": {"type": "point", "domain": ["d0","d1","d2","d3","d4","d5","d6","label","rule"], "padding": 0.589, "align": 0.525}, "axis": null}, "text": {"field": "label"}}}
   ]},
  {"width": 915, "height": 541.5, "data": {"values": [{"label": "Some college"}]},
   "layer": [
    {"mark": {"type": "rule", "color": "#7a7a7a", "strokeWidth": 3}, "encoding": {"x": {"datum": "AIAN", "type": "nominal", "scale": {"type": "band", "domain": ["AIAN","Asian","Black","Latinx","PI"], "paddingInner": 0, "paddingOuter": 0.2727, "align": 0.5}, "axis": null}, "x2": {"datum": "PI"}, "y": {"datum": "rule", "type": "nominal", "scale": {"type": "point", "domain": ["d0","d1","d2","d3","d4","d5","d6","label","rule"], "padding": 0.589, "align": 0.525}, "axis": null}}},
    {"mark": {"type": "point", "shape": "M-1,0L0,-1.5L1,0Z", "size": 625, "filled": true, "color": "#6b6b6b", "opacity": 1}, "encoding": {"x": {"datum": "Black", "type": "nominal", "scale": {"type": "band", "domain": ["AIAN","Asian","Black","Latinx","PI"], "paddingInner": 0, "paddingOuter": 0.2727, "align": 0.5}, "axis": null}, "y": {"datum": "rule", "type": "nominal", "scale": {"type": "point", "domain": ["d0","d1","d2","d3","d4","d5","d6","label","rule"], "padding": 0.589, "align": 0.525}, "axis": null}}},
    {"mark": {"type": "text", "fontSize": 46, "color": "#000", "baseline": "middle"}, "encoding": {"x": {"datum": "Black", "type": "nominal", "scale": {"type": "band", "domain": ["AIAN","Asian","Black","Latinx","PI"], "paddingInner": 0, "paddingOuter": 0.2727, "align": 0.5}, "axis": null}, "y": {"datum": "label", "type": "nominal", "scale": {"type": "point", "domain": ["d0","d1","d2","d3","d4","d5","d6","label","rule"], "padding": 0.589, "align": 0.525}, "axis": null}, "text": {"field": "label"}}}
   ]},
  {"width": 870, "height": 541.5, "data": {"values": [{"label": "Bachelor’s degree or more"}]},
   "layer": [
    {"mark": {"type": "rule", "color": "#7a7a7a", "strokeWidth": 3}, "encoding": {"x": {"datum": "AIAN", "type": "nominal", "scale": {"type": "band", "domain": ["AIAN","Asian","Black","Latinx","PI"], "paddingInner": 0, "paddingOuter": 0.1364, "align": 1}, "axis": null}, "x2": {"datum": "PI"}, "y": {"datum": "rule", "type": "nominal", "scale": {"type": "point", "domain": ["d0","d1","d2","d3","d4","d5","d6","label","rule"], "padding": 0.589, "align": 0.525}, "axis": null}}},
    {"mark": {"type": "point", "shape": "M-1,0L0,-1.5L1,0Z", "size": 625, "filled": true, "color": "#6b6b6b", "opacity": 1}, "encoding": {"x": {"datum": "Black", "type": "nominal", "scale": {"type": "band", "domain": ["AIAN","Asian","Black","Latinx","PI"], "paddingInner": 0, "paddingOuter": 0.1364, "align": 1}, "axis": null}, "y": {"datum": "rule", "type": "nominal", "scale": {"type": "point", "domain": ["d0","d1","d2","d3","d4","d5","d6","label","rule"], "padding": 0.589, "align": 0.525}, "axis": null}}},
    {"mark": {"type": "text", "fontSize": 46, "color": "#000", "baseline": "middle"}, "encoding": {"x": {"datum": "Black", "type": "nominal", "scale": {"type": "band", "domain": ["AIAN","Asian","Black","Latinx","PI"], "paddingInner": 0, "paddingOuter": 0.1364, "align": 1}, "axis": null}, "y": {"datum": "label", "type": "nominal", "scale": {"type": "point", "domain": ["d0","d1","d2","d3","d4","d5","d6","label","rule"], "padding": 0.589, "align": 0.525}, "axis": null}, "text": {"field": "label"}}}
   ]},
  {"width": 249, "height": 787, "data": {"values": [{"a": 1}]}, "mark": {"type": "text", "text": ""}, "encoding": {}},
  {"width": 894.5, "height": 787, "layer": [
   {"data": {"values": [{"ref": 1}]}, "mark": {"type": "rule", "color": "#1a1a1a", "strokeWidth": 2.5, "strokeDash": [7, 4]}, "encoding": {"y": {"field": "ref", "type": "quantitative", "scale": {"type": "log", "domain": [0.1, 40], "nice": false}, "axis": {"values": [0.1, 0.5, 2, 8, 40], "grid": true, "labelExpr": "datum.value < 0.2 ? '1' : format(datum.value, '.1f')", "title": ["Mortality rate ratio (vs non-Hispanic", "White individuals)"]}}}},
   {"data": {"name": "rr"}, "transform": [{"filter": "datum.panel == 'B' && datum.edu == 'All'"}],
    "encoding": {"x": {"field": "race", "type": "nominal", "scale": {"type": "band", "domain": ["AIAN","Asian","Black","Latinx","PI"], "paddingInner": 0, "paddingOuter": 0.2106, "align": 0.3525}, "axis": {"title": null, "labelExpr": "datum.value == 'AIAN' ? ['American', 'Indian', 'or Alaska', 'Native'] : datum.value == 'PI' ? ['Pacific', 'Islander'] : datum.value"}}, "xOffset": {"field": "sex", "type": "nominal", "scale": {"type": "band", "domain": ["Men", "Women"], "paddingInner": 0, "paddingOuter": 0.044}}},
    "layer": [
     {"mark": {"type": "rule", "color": "#111", "strokeWidth": 2.5}, "encoding": {"y": {"field": "lo", "type": "quantitative"}, "y2": {"field": "hi"}}},
     {"mark": {"type": "tick", "color": "#111", "size": 40, "thickness": 3}, "encoding": {"y": {"field": "lo", "type": "quantitative"}}},
     {"mark": {"type": "tick", "color": "#111", "size": 40, "thickness": 3}, "encoding": {"y": {"field": "hi", "type": "quantitative"}}},
     {"mark": {"type": "circle", "size": 1400, "opacity": 1}, "encoding": {"y": {"field": "rr", "type": "quantitative"}, "color": {"field": "sex", "type": "nominal", "scale": {"domain": ["Men", "Women"], "range": ["#ff8200", "#295553"]}, "legend": {"title": null, "orient": "none", "legendX": 3300, "legendY": 286}}}}
    ]}
  ]},
  {"width": 915, "height": 787, "layer": [
   {"data": {"values": [{"ref": 1}]}, "mark": {"type": "rule", "color": "#1a1a1a", "strokeWidth": 2.5, "strokeDash": [7, 4]}, "encoding": {"y": {"field": "ref", "type": "quantitative", "scale": {"type": "log", "domain": [0.1, 40], "nice": false}, "axis": {"values": [0.1, 0.5, 2, 8, 40], "grid": true, "labels": false, "ticks": false, "domain": false, "title": null}}}},
   {"data": {"name": "rr"}, "transform": [{"filter": "datum.panel == 'B' && datum.edu == 'HS'"}],
    "encoding": {"x": {"field": "race", "type": "nominal", "scale": {"type": "band", "domain": ["AIAN","Asian","Black","Latinx","PI"], "paddingInner": 0, "paddingOuter": 0.2727, "align": 0.5}, "axis": {"title": null, "labelExpr": "datum.value == 'AIAN' ? ['American', 'Indian', 'or Alaska', 'Native'] : datum.value == 'PI' ? ['Pacific', 'Islander'] : datum.value"}}, "xOffset": {"field": "sex", "type": "nominal", "scale": {"type": "band", "domain": ["Men", "Women"], "paddingInner": 0, "paddingOuter": 0.044}}},
    "layer": [
     {"mark": {"type": "rule", "color": "#111", "strokeWidth": 2.5}, "encoding": {"y": {"field": "lo", "type": "quantitative"}, "y2": {"field": "hi"}}},
     {"mark": {"type": "tick", "color": "#111", "size": 40, "thickness": 3}, "encoding": {"y": {"field": "lo", "type": "quantitative"}}},
     {"mark": {"type": "tick", "color": "#111", "size": 40, "thickness": 3}, "encoding": {"y": {"field": "hi", "type": "quantitative"}}},
     {"mark": {"type": "circle", "size": 1400, "opacity": 1}, "encoding": {"y": {"field": "rr", "type": "quantitative"}, "color": {"field": "sex", "type": "nominal", "scale": {"domain": ["Men", "Women"], "range": ["#ff8200", "#295553"]}, "legend": {"title": null, "orient": "none", "legendX": 3300, "legendY": 286}}}}
    ]}
  ]},
  {"width": 915, "height": 787, "layer": [
   {"data": {"values": [{"ref": 1}]}, "mark": {"type": "rule", "color": "#1a1a1a", "strokeWidth": 2.5, "strokeDash": [7, 4]}, "encoding": {"y": {"field": "ref", "type": "quantitative", "scale": {"type": "log", "domain": [0.1, 40], "nice": false}, "axis": {"values": [0.1, 0.5, 2, 8, 40], "grid": true, "labels": false, "ticks": false, "domain": false, "title": null}}}},
   {"data": {"name": "rr"}, "transform": [{"filter": "datum.panel == 'B' && datum.edu == 'SC'"}],
    "encoding": {"x": {"field": "race", "type": "nominal", "scale": {"type": "band", "domain": ["AIAN","Asian","Black","Latinx","PI"], "paddingInner": 0, "paddingOuter": 0.2727, "align": 0.5}, "axis": {"title": null, "labelExpr": "datum.value == 'AIAN' ? ['American', 'Indian', 'or Alaska', 'Native'] : datum.value == 'PI' ? ['Pacific', 'Islander'] : datum.value"}}, "xOffset": {"field": "sex", "type": "nominal", "scale": {"type": "band", "domain": ["Men", "Women"], "paddingInner": 0, "paddingOuter": 0.044}}},
    "layer": [
     {"mark": {"type": "rule", "color": "#111", "strokeWidth": 2.5}, "encoding": {"y": {"field": "lo", "type": "quantitative"}, "y2": {"field": "hi"}}},
     {"mark": {"type": "tick", "color": "#111", "size": 40, "thickness": 3}, "encoding": {"y": {"field": "lo", "type": "quantitative"}}},
     {"mark": {"type": "tick", "color": "#111", "size": 40, "thickness": 3}, "encoding": {"y": {"field": "hi", "type": "quantitative"}}},
     {"mark": {"type": "circle", "size": 1400, "opacity": 1}, "encoding": {"y": {"field": "rr", "type": "quantitative"}, "color": {"field": "sex", "type": "nominal", "scale": {"domain": ["Men", "Women"], "range": ["#ff8200", "#295553"]}, "legend": {"title": null, "orient": "none", "legendX": 3300, "legendY": 286}}}}
    ]}
  ]},
  {"width": 870, "height": 787, "layer": [
   {"data": {"values": [{"ref": 1}]}, "mark": {"type": "rule", "color": "#1a1a1a", "strokeWidth": 2.5, "strokeDash": [7, 4]}, "encoding": {"y": {"field": "ref", "type": "quantitative", "scale": {"type": "log", "domain": [0.1, 40], "nice": false}, "axis": {"values": [0.1, 0.5, 2, 8, 40], "grid": true, "labels": false, "ticks": false, "domain": false, "title": null}}}},
   {"data": {"name": "rr"}, "transform": [{"filter": "datum.panel == 'B' && datum.edu == 'BA'"}],
    "encoding": {"x": {"field": "race", "type": "nominal", "scale": {"type": "band", "domain": ["AIAN","Asian","Black","Latinx","PI"], "paddingInner": 0, "paddingOuter": 0.1364, "align": 1}, "axis": {"title": null, "labelExpr": "datum.value == 'AIAN' ? ['American', 'Indian', 'or Alaska', 'Native'] : datum.value == 'PI' ? ['Pacific', 'Islander'] : datum.value"}}, "xOffset": {"field": "sex", "type": "nominal", "scale": {"type": "band", "domain": ["Men", "Women"], "paddingInner": 0, "paddingOuter": 0.044}}},
    "layer": [
     {"mark": {"type": "rule", "color": "#111", "strokeWidth": 2.5}, "encoding": {"y": {"field": "lo", "type": "quantitative"}, "y2": {"field": "hi"}}},
     {"mark": {"type": "tick", "color": "#111", "size": 40, "thickness": 3}, "encoding": {"y": {"field": "lo", "type": "quantitative"}}},
     {"mark": {"type": "tick", "color": "#111", "size": 40, "thickness": 3}, "encoding": {"y": {"field": "hi", "type": "quantitative"}}},
     {"mark": {"type": "circle", "size": 1400, "opacity": 1}, "encoding": {"y": {"field": "rr", "type": "quantitative"}, "color": {"field": "sex", "type": "nominal", "scale": {"domain": ["Men", "Women"], "range": ["#ff8200", "#295553"]}, "legend": {"title": null, "orient": "none", "legendX": 3300, "legendY": 286}}}}
    ]}
  ]},
  {"width": 249, "height": 541.5,
   "data": {"values": [{"part": "letter", "text": "C"}, {"part": "label", "text": "Ages ≥65 y"}]},
   "encoding": {"y": {"datum": "box", "type": "nominal", "scale": {"type": "band", "domain": ["t0", "t1", "t2", "t3", "t4", "box", "t6"], "paddingInner": 0, "paddingOuter": 0.368, "align": 0.437}, "axis": null}},
   "layer": [
    {"transform": [{"filter": "datum.part == 'letter'"}], "mark": {"type": "rect", "fill": "#fff", "stroke": "#000", "strokeWidth": 2.5}, "encoding": {"x": {"field": "part", "type": "nominal", "scale": {"type": "band", "domain": ["letter", "label"], "paddingInner": 0, "paddingOuter": 0.7535, "align": 0}, "axis": null}}},
    {"transform": [{"filter": "datum.part == 'letter'"}], "mark": {"type": "text", "fontSize": 46, "fontWeight": "bold", "align": "center", "baseline": "middle", "color": "#000"}, "encoding": {"x": {"field": "part", "type": "nominal", "bandPosition": 0.5, "scale": {"type": "band", "domain": ["letter", "label"], "paddingInner": 0, "paddingOuter": 0.7535, "align": 0}, "axis": null}, "text": {"field": "text"}}},
    {"transform": [{"filter": "datum.part == 'label'"}], "mark": {"type": "text", "fontSize": 46, "align": "left", "baseline": "middle", "color": "#000"}, "encoding": {"x": {"field": "part", "type": "nominal", "bandPosition": 0.41, "scale": {"type": "band", "domain": ["letter", "label"], "paddingInner": 0, "paddingOuter": 0.7535, "align": 0}, "axis": null}, "text": {"field": "text"}}}
   ]},
  {"width": 894.5, "height": 541.5, "data": {"values": [{"label": "All"}]},
   "layer": [
    {"mark": {"type": "rule", "color": "#7a7a7a", "strokeWidth": 3}, "encoding": {"x": {"datum": "AIAN", "type": "nominal", "scale": {"type": "band", "domain": ["AIAN","Asian","Black","Latinx","PI"], "paddingInner": 0, "paddingOuter": 0.2106, "align": 0.3525}, "axis": null}, "x2": {"datum": "PI"}, "y": {"datum": "rule", "type": "nominal", "scale": {"type": "point", "domain": ["d0","d1","d2","d3","d4","d5","d6","label","rule"], "padding": 0.589, "align": 0.525}, "axis": null}}},
    {"mark": {"type": "point", "shape": "M-1,0L0,-1.5L1,0Z", "size": 625, "filled": true, "color": "#6b6b6b", "opacity": 1}, "encoding": {"x": {"datum": "Black", "type": "nominal", "scale": {"type": "band", "domain": ["AIAN","Asian","Black","Latinx","PI"], "paddingInner": 0, "paddingOuter": 0.2106, "align": 0.3525}, "axis": null}, "y": {"datum": "rule", "type": "nominal", "scale": {"type": "point", "domain": ["d0","d1","d2","d3","d4","d5","d6","label","rule"], "padding": 0.589, "align": 0.525}, "axis": null}}},
    {"mark": {"type": "text", "fontSize": 46, "color": "#000", "baseline": "middle"}, "encoding": {"x": {"datum": "Black", "type": "nominal", "scale": {"type": "band", "domain": ["AIAN","Asian","Black","Latinx","PI"], "paddingInner": 0, "paddingOuter": 0.2106, "align": 0.3525}, "axis": null}, "y": {"datum": "label", "type": "nominal", "scale": {"type": "point", "domain": ["d0","d1","d2","d3","d4","d5","d6","label","rule"], "padding": 0.589, "align": 0.525}, "axis": null}, "text": {"field": "label"}}}
   ]},
  {"width": 915, "height": 541.5, "data": {"values": [{"label": "HS/GED or less"}]},
   "layer": [
    {"mark": {"type": "rule", "color": "#7a7a7a", "strokeWidth": 3}, "encoding": {"x": {"datum": "AIAN", "type": "nominal", "scale": {"type": "band", "domain": ["AIAN","Asian","Black","Latinx","PI"], "paddingInner": 0, "paddingOuter": 0.2727, "align": 0.5}, "axis": null}, "x2": {"datum": "PI"}, "y": {"datum": "rule", "type": "nominal", "scale": {"type": "point", "domain": ["d0","d1","d2","d3","d4","d5","d6","label","rule"], "padding": 0.589, "align": 0.525}, "axis": null}}},
    {"mark": {"type": "point", "shape": "M-1,0L0,-1.5L1,0Z", "size": 625, "filled": true, "color": "#6b6b6b", "opacity": 1}, "encoding": {"x": {"datum": "Black", "type": "nominal", "scale": {"type": "band", "domain": ["AIAN","Asian","Black","Latinx","PI"], "paddingInner": 0, "paddingOuter": 0.2727, "align": 0.5}, "axis": null}, "y": {"datum": "rule", "type": "nominal", "scale": {"type": "point", "domain": ["d0","d1","d2","d3","d4","d5","d6","label","rule"], "padding": 0.589, "align": 0.525}, "axis": null}}},
    {"mark": {"type": "text", "fontSize": 46, "color": "#000", "baseline": "middle"}, "encoding": {"x": {"datum": "Black", "type": "nominal", "scale": {"type": "band", "domain": ["AIAN","Asian","Black","Latinx","PI"], "paddingInner": 0, "paddingOuter": 0.2727, "align": 0.5}, "axis": null}, "y": {"datum": "label", "type": "nominal", "scale": {"type": "point", "domain": ["d0","d1","d2","d3","d4","d5","d6","label","rule"], "padding": 0.589, "align": 0.525}, "axis": null}, "text": {"field": "label"}}}
   ]},
  {"width": 915, "height": 541.5, "data": {"values": [{"label": "Some college"}]},
   "layer": [
    {"mark": {"type": "rule", "color": "#7a7a7a", "strokeWidth": 3}, "encoding": {"x": {"datum": "AIAN", "type": "nominal", "scale": {"type": "band", "domain": ["AIAN","Asian","Black","Latinx","PI"], "paddingInner": 0, "paddingOuter": 0.2727, "align": 0.5}, "axis": null}, "x2": {"datum": "PI"}, "y": {"datum": "rule", "type": "nominal", "scale": {"type": "point", "domain": ["d0","d1","d2","d3","d4","d5","d6","label","rule"], "padding": 0.589, "align": 0.525}, "axis": null}}},
    {"mark": {"type": "point", "shape": "M-1,0L0,-1.5L1,0Z", "size": 625, "filled": true, "color": "#6b6b6b", "opacity": 1}, "encoding": {"x": {"datum": "Black", "type": "nominal", "scale": {"type": "band", "domain": ["AIAN","Asian","Black","Latinx","PI"], "paddingInner": 0, "paddingOuter": 0.2727, "align": 0.5}, "axis": null}, "y": {"datum": "rule", "type": "nominal", "scale": {"type": "point", "domain": ["d0","d1","d2","d3","d4","d5","d6","label","rule"], "padding": 0.589, "align": 0.525}, "axis": null}}},
    {"mark": {"type": "text", "fontSize": 46, "color": "#000", "baseline": "middle"}, "encoding": {"x": {"datum": "Black", "type": "nominal", "scale": {"type": "band", "domain": ["AIAN","Asian","Black","Latinx","PI"], "paddingInner": 0, "paddingOuter": 0.2727, "align": 0.5}, "axis": null}, "y": {"datum": "label", "type": "nominal", "scale": {"type": "point", "domain": ["d0","d1","d2","d3","d4","d5","d6","label","rule"], "padding": 0.589, "align": 0.525}, "axis": null}, "text": {"field": "label"}}}
   ]},
  {"width": 870, "height": 541.5, "data": {"values": [{"label": "Bachelor’s degree or more"}]},
   "layer": [
    {"mark": {"type": "rule", "color": "#7a7a7a", "strokeWidth": 3}, "encoding": {"x": {"datum": "AIAN", "type": "nominal", "scale": {"type": "band", "domain": ["AIAN","Asian","Black","Latinx","PI"], "paddingInner": 0, "paddingOuter": 0.1364, "align": 1}, "axis": null}, "x2": {"datum": "PI"}, "y": {"datum": "rule", "type": "nominal", "scale": {"type": "point", "domain": ["d0","d1","d2","d3","d4","d5","d6","label","rule"], "padding": 0.589, "align": 0.525}, "axis": null}}},
    {"mark": {"type": "point", "shape": "M-1,0L0,-1.5L1,0Z", "size": 625, "filled": true, "color": "#6b6b6b", "opacity": 1}, "encoding": {"x": {"datum": "Black", "type": "nominal", "scale": {"type": "band", "domain": ["AIAN","Asian","Black","Latinx","PI"], "paddingInner": 0, "paddingOuter": 0.1364, "align": 1}, "axis": null}, "y": {"datum": "rule", "type": "nominal", "scale": {"type": "point", "domain": ["d0","d1","d2","d3","d4","d5","d6","label","rule"], "padding": 0.589, "align": 0.525}, "axis": null}}},
    {"mark": {"type": "text", "fontSize": 46, "color": "#000", "baseline": "middle"}, "encoding": {"x": {"datum": "Black", "type": "nominal", "scale": {"type": "band", "domain": ["AIAN","Asian","Black","Latinx","PI"], "paddingInner": 0, "paddingOuter": 0.1364, "align": 1}, "axis": null}, "y": {"datum": "label", "type": "nominal", "scale": {"type": "point", "domain": ["d0","d1","d2","d3","d4","d5","d6","label","rule"], "padding": 0.589, "align": 0.525}, "axis": null}, "text": {"field": "label"}}}
   ]},
  {"width": 249, "height": 787, "data": {"values": [{"a": 1}]}, "mark": {"type": "text", "text": ""}, "encoding": {}},
  {"width": 894.5, "height": 787, "layer": [
   {"data": {"values": [{"ref": 1}]}, "mark": {"type": "rule", "color": "#1a1a1a", "strokeWidth": 2.5, "strokeDash": [7, 4]}, "encoding": {"y": {"field": "ref", "type": "quantitative", "scale": {"type": "log", "domain": [0.1, 40], "nice": false}, "axis": {"values": [0.1, 0.5, 2, 8, 40], "grid": true, "labelExpr": "datum.value < 0.2 ? '1' : format(datum.value, '.1f')", "title": ["Mortality rate ratio (vs non-Hispanic", "White individuals)"]}}}},
   {"data": {"name": "rr"}, "transform": [{"filter": "datum.panel == 'C' && datum.edu == 'All'"}],
    "encoding": {"x": {"field": "race", "type": "nominal", "scale": {"type": "band", "domain": ["AIAN","Asian","Black","Latinx","PI"], "paddingInner": 0, "paddingOuter": 0.2106, "align": 0.3525}, "axis": {"title": null, "labelExpr": "datum.value == 'AIAN' ? ['American', 'Indian', 'or Alaska', 'Native'] : datum.value == 'PI' ? ['Pacific', 'Islander'] : datum.value"}}, "xOffset": {"field": "sex", "type": "nominal", "scale": {"type": "band", "domain": ["Men", "Women"], "paddingInner": 0, "paddingOuter": 0.044}}},
    "layer": [
     {"mark": {"type": "rule", "color": "#111", "strokeWidth": 2.5}, "encoding": {"y": {"field": "lo", "type": "quantitative"}, "y2": {"field": "hi"}}},
     {"mark": {"type": "tick", "color": "#111", "size": 40, "thickness": 3}, "encoding": {"y": {"field": "lo", "type": "quantitative"}}},
     {"mark": {"type": "tick", "color": "#111", "size": 40, "thickness": 3}, "encoding": {"y": {"field": "hi", "type": "quantitative"}}},
     {"mark": {"type": "circle", "size": 1400, "opacity": 1}, "encoding": {"y": {"field": "rr", "type": "quantitative"}, "color": {"field": "sex", "type": "nominal", "scale": {"domain": ["Men", "Women"], "range": ["#ff8200", "#295553"]}, "legend": {"title": null, "orient": "none", "legendX": 3300, "legendY": 286}}}}
    ]}
  ]},
  {"width": 915, "height": 787, "layer": [
   {"data": {"values": [{"ref": 1}]}, "mark": {"type": "rule", "color": "#1a1a1a", "strokeWidth": 2.5, "strokeDash": [7, 4]}, "encoding": {"y": {"field": "ref", "type": "quantitative", "scale": {"type": "log", "domain": [0.1, 40], "nice": false}, "axis": {"values": [0.1, 0.5, 2, 8, 40], "grid": true, "labels": false, "ticks": false, "domain": false, "title": null}}}},
   {"data": {"name": "rr"}, "transform": [{"filter": "datum.panel == 'C' && datum.edu == 'HS'"}],
    "encoding": {"x": {"field": "race", "type": "nominal", "scale": {"type": "band", "domain": ["AIAN","Asian","Black","Latinx","PI"], "paddingInner": 0, "paddingOuter": 0.2727, "align": 0.5}, "axis": {"title": null, "labelExpr": "datum.value == 'AIAN' ? ['American', 'Indian', 'or Alaska', 'Native'] : datum.value == 'PI' ? ['Pacific', 'Islander'] : datum.value"}}, "xOffset": {"field": "sex", "type": "nominal", "scale": {"type": "band", "domain": ["Men", "Women"], "paddingInner": 0, "paddingOuter": 0.044}}},
    "layer": [
     {"mark": {"type": "rule", "color": "#111", "strokeWidth": 2.5}, "encoding": {"y": {"field": "lo", "type": "quantitative"}, "y2": {"field": "hi"}}},
     {"mark": {"type": "tick", "color": "#111", "size": 40, "thickness": 3}, "encoding": {"y": {"field": "lo", "type": "quantitative"}}},
     {"mark": {"type": "tick", "color": "#111", "size": 40, "thickness": 3}, "encoding": {"y": {"field": "hi", "type": "quantitative"}}},
     {"mark": {"type": "circle", "size": 1400, "opacity": 1}, "encoding": {"y": {"field": "rr", "type": "quantitative"}, "color": {"field": "sex", "type": "nominal", "scale": {"domain": ["Men", "Women"], "range": ["#ff8200", "#295553"]}, "legend": {"title": null, "orient": "none", "legendX": 3300, "legendY": 286}}}}
    ]}
  ]},
  {"width": 915, "height": 787, "layer": [
   {"data": {"values": [{"ref": 1}]}, "mark": {"type": "rule", "color": "#1a1a1a", "strokeWidth": 2.5, "strokeDash": [7, 4]}, "encoding": {"y": {"field": "ref", "type": "quantitative", "scale": {"type": "log", "domain": [0.1, 40], "nice": false}, "axis": {"values": [0.1, 0.5, 2, 8, 40], "grid": true, "labels": false, "ticks": false, "domain": false, "title": null}}}},
   {"data": {"name": "rr"}, "transform": [{"filter": "datum.panel == 'C' && datum.edu == 'SC'"}],
    "encoding": {"x": {"field": "race", "type": "nominal", "scale": {"type": "band", "domain": ["AIAN","Asian","Black","Latinx","PI"], "paddingInner": 0, "paddingOuter": 0.2727, "align": 0.5}, "axis": {"title": null, "labelExpr": "datum.value == 'AIAN' ? ['American', 'Indian', 'or Alaska', 'Native'] : datum.value == 'PI' ? ['Pacific', 'Islander'] : datum.value"}}, "xOffset": {"field": "sex", "type": "nominal", "scale": {"type": "band", "domain": ["Men", "Women"], "paddingInner": 0, "paddingOuter": 0.044}}},
    "layer": [
     {"mark": {"type": "rule", "color": "#111", "strokeWidth": 2.5}, "encoding": {"y": {"field": "lo", "type": "quantitative"}, "y2": {"field": "hi"}}},
     {"mark": {"type": "tick", "color": "#111", "size": 40, "thickness": 3}, "encoding": {"y": {"field": "lo", "type": "quantitative"}}},
     {"mark": {"type": "tick", "color": "#111", "size": 40, "thickness": 3}, "encoding": {"y": {"field": "hi", "type": "quantitative"}}},
     {"mark": {"type": "circle", "size": 1400, "opacity": 1}, "encoding": {"y": {"field": "rr", "type": "quantitative"}, "color": {"field": "sex", "type": "nominal", "scale": {"domain": ["Men", "Women"], "range": ["#ff8200", "#295553"]}, "legend": {"title": null, "orient": "none", "legendX": 3300, "legendY": 286}}}}
    ]}
  ]},
  {"width": 870, "height": 787, "layer": [
   {"data": {"values": [{"ref": 1}]}, "mark": {"type": "rule", "color": "#1a1a1a", "strokeWidth": 2.5, "strokeDash": [7, 4]}, "encoding": {"y": {"field": "ref", "type": "quantitative", "scale": {"type": "log", "domain": [0.1, 40], "nice": false}, "axis": {"values": [0.1, 0.5, 2, 8, 40], "grid": true, "labels": false, "ticks": false, "domain": false, "title": null}}}},
   {"data": {"name": "rr"}, "transform": [{"filter": "datum.panel == 'C' && datum.edu == 'BA'"}],
    "encoding": {"x": {"field": "race", "type": "nominal", "scale": {"type": "band", "domain": ["AIAN","Asian","Black","Latinx","PI"], "paddingInner": 0, "paddingOuter": 0.1364, "align": 1}, "axis": {"title": null, "labelExpr": "datum.value == 'AIAN' ? ['American', 'Indian', 'or Alaska', 'Native'] : datum.value == 'PI' ? ['Pacific', 'Islander'] : datum.value"}}, "xOffset": {"field": "sex", "type": "nominal", "scale": {"type": "band", "domain": ["Men", "Women"], "paddingInner": 0, "paddingOuter": 0.044}}},
    "layer": [
     {"mark": {"type": "rule", "color": "#111", "strokeWidth": 2.5}, "encoding": {"y": {"field": "lo", "type": "quantitative"}, "y2": {"field": "hi"}}},
     {"mark": {"type": "tick", "color": "#111", "size": 40, "thickness": 3}, "encoding": {"y": {"field": "lo", "type": "quantitative"}}},
     {"mark": {"type": "tick", "color": "#111", "size": 40, "thickness": 3}, "encoding": {"y": {"field": "hi", "type": "quantitative"}}},
     {"mark": {"type": "circle", "size": 1400, "opacity": 1}, "encoding": {"y": {"field": "rr", "type": "quantitative"}, "color": {"field": "sex", "type": "nominal", "scale": {"domain": ["Men", "Women"], "range": ["#ff8200", "#295553"]}, "legend": {"title": null, "orient": "none", "legendX": 3300, "legendY": 286}}}}
    ]}
  ]}
]
}
